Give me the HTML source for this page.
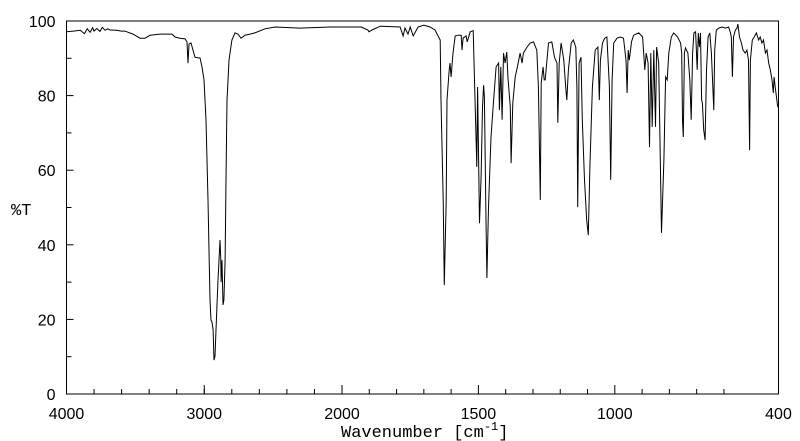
<!DOCTYPE html>
<html><head><meta charset="utf-8"><style>
html,body{margin:0;padding:0;background:#fff;}
svg{display:block;}
.tk{font-family:"Liberation Sans",sans-serif;font-size:16px;fill:#000;}
.mono{font-family:"Liberation Mono",monospace;font-size:17px;fill:#000;}
</style></head><body>
<svg id="chart" width="800" height="441" viewBox="0 0 800 441" xmlns="http://www.w3.org/2000/svg">
<g id="axes"></g>
<path id="spec" fill="none" stroke="#000" stroke-width="1"/>
<text class="mono" x="11" y="215">%T</text>
<text class="mono" x="341" y="437">Wavenumber [cm<tspan dy="-7" font-size="12">-1</tspan><tspan dy="7">]</tspan></text>
</svg>
<script>
const wavenumbers=[4000,3950,3900,3870,3850,3829,3810,3800,3780,3757,3740,3720,3700,3684,3640,3600,3575,3517,3466,3430,3394,3321,3234,3212,3176,3140,3125,3118,3111,3096,3082,3067,3045,3031,3016,3002,2987,2973,2958,2951,2944,2936,2929,2922,2915,2900,2893,2886,2880,2878,2871,2864,2857,2849,2842,2835,2820,2799,2777,2755,2733,2704,2668,2632,2559,2486,2305,2087,2000,1930,1905,1901,1890,1860,1787,1776,1769,1758,1750,1739,1721,1700,1677,1659,1640,1637,1629,1625,1618,1615,1607,1604,1600,1593,1585,1574,1563,1560,1556,1545,1541,1530,1519,1512,1506,1503,1496,1490,1485,1481,1478,1472,1469,1463,1454,1445,1435,1426,1423,1418,1413,1408,1402,1396,1392,1383,1380,1374,1365,1357,1347,1340,1335,1322,1310,1298,1286,1280,1273,1270,1263,1259,1255,1243,1231,1221,1212,1209,1204,1197,1187,1180,1176,1170,1160,1152,1143,1139,1136,1131,1124,1119,1111,1103,1097,1091,1082,1072,1062,1057,1053,1045,1037,1029,1020,1015,1010,1004,992,980,968,959,955,951,947,939,931,912,898,890,885,878,873,868,863,857,851,847,839,829,820,814,808,802,793,784,770,759,755,752,749,745,741,732,725,720,715,710,704,698,694,690,686,682,679,674,669,664,658,652,646,637,634,628,619,607,595,583,576,573,569,565,558,552,549,543,536,530,522,516,510,506,503,496,489,481,473,467,461,455,448,442,436,430,424,419,416,412,403,400];
const transmittance=[97.1,97.3,97.5,96.6,97.9,97.0,98.2,97.3,98.0,97.2,98.3,97.5,97.9,97.6,97.5,97.3,97.3,96.5,95.4,95.4,96.2,96.5,96.5,95.7,95.4,95.2,94.4,88.7,93.8,94.1,92.2,90.3,90.1,90.1,87.7,84.2,73.5,52,25.2,19.8,19.3,17.2,9.1,10.2,17.2,30.6,35.9,41.3,36,30,35.9,23.9,25.2,35.9,57.4,78.8,89.5,94.9,96.8,96.5,95.4,96.2,96.5,96.8,97.9,98.4,98.1,98.4,98.4,98.4,97.6,97.1,97.6,98.6,98.4,96.0,98.1,96.5,98.4,96.0,98.4,98.9,98.4,97.6,94.9,78.8,52.0,29.2,52.0,78.8,86.9,88.7,85.0,91.4,96.0,96.2,96.2,92.2,95.4,96.0,94.4,97.1,97.4,78.0,60.9,82.3,45.8,58.2,77.0,82.8,79.6,46.6,31.1,50.1,68.9,78.0,87.7,88.7,76.1,87.7,73.5,91.4,88.7,91.7,85.0,76.9,61.9,78.0,85.0,87.7,91.4,88.7,91.4,93.0,94.1,94.4,92.2,82.3,52.0,83.4,87.7,84.2,84.2,94.1,94.4,90.3,88.7,72.7,88.7,94.1,89.5,82.3,78.8,86.9,94.1,94.9,93.0,82.3,50.1,88.7,90.3,73.5,57.4,46.6,42.6,61.9,82.3,92.2,93.0,78.8,89.5,94.1,95.4,95.7,82.3,57.4,84.2,94.1,95.4,95.7,95.4,89.5,80.7,92.2,89.5,94.4,96.2,96.8,95.7,86.9,91.4,88.7,66.2,91.4,71.6,92.2,71.6,93.0,88.7,43.2,62.7,85.0,84.2,91.4,95.7,96.8,95.7,94.1,91.4,73.5,68.9,91.4,92.8,91.4,84.2,73.5,91.4,96.8,97.1,86.9,96.8,93.0,96.8,78.8,78.0,70.8,68.1,86.9,95.7,96.8,91.4,76.1,92.2,97.6,98.1,98.4,98.1,98.4,96.8,95.7,85.0,95.7,97.6,98.1,99.2,95.7,94.1,92.2,91.4,92.2,89.5,65.4,89.5,94.9,95.7,96.8,94.9,95.7,94.1,94.9,91.4,92.2,88.7,86.9,84.2,80.7,85.0,82.3,77.0,77];
const xTickLabels=[4000,3000,2000,1500,1000,400];
const yTickLabels=[0,20,40,60,80,100];

const L=66.5,R=778.5,T=21,B=394,XB=342;
function xs(w){return w>=2000? L+(4000-w)*(XB-L)/2000 : XB+(2000-w)*(R-XB)/1600;}
function ys(v){return B-(v/100)*(B-T);}
const NS="http://www.w3.org/2000/svg";
const ax=document.getElementById('axes');
function mk(tag,attrs){const e=document.createElementNS(NS,tag);for(const k in attrs)e.setAttribute(k,attrs[k]);return e;}
const frame=mk('rect',{x:L,y:T,width:R-L,height:B-T,fill:'none',stroke:'#000','stroke-width':1});


ax.appendChild(frame);
for(let w=3800;w>2000;w-=200){const t=mk('line',{x1:xs(w),x2:xs(w),y1:B,y2:B-5,stroke:'#000'});


ax.appendChild(t);}
for(let w=1900;w>400;w-=100){if(w%500===0)continue;const t=mk('line',{x1:xs(w),x2:xs(w),y1:B,y2:B-5,stroke:'#000'});


ax.appendChild(t);}
xTickLabels.forEach(w=>{const x=xs(w);
if(w!==4000&&w!==400){const t=mk('line',{x1:x,x2:x,y1:B,y2:B-9,stroke:'#000'});


ax.appendChild(t);}
const tx=mk('text',{x:x,y:B+25,'text-anchor':'middle',class:'tk'});tx.textContent=w;


ax.appendChild(tx);});
for(let v=10;v<100;v+=10){const t=mk('line',{x1:L,x2:L+(v%20===0?7:5),y1:ys(v),y2:ys(v),stroke:'#000'});


ax.appendChild(t);}
yTickLabels.forEach(v=>{const tx=mk('text',{x:L-11,y:ys(v)+6,'text-anchor':'end',class:'tk'});tx.textContent=v;


ax.appendChild(tx);});
let d='';
wavenumbers.forEach((w,i)=>{d+=(i?'L':'M')+xs(w).toFixed(1)+' '+ys(transmittance[i]).toFixed(1);});
document.getElementById('spec').setAttribute('d',d);
</script>
</body></html>
